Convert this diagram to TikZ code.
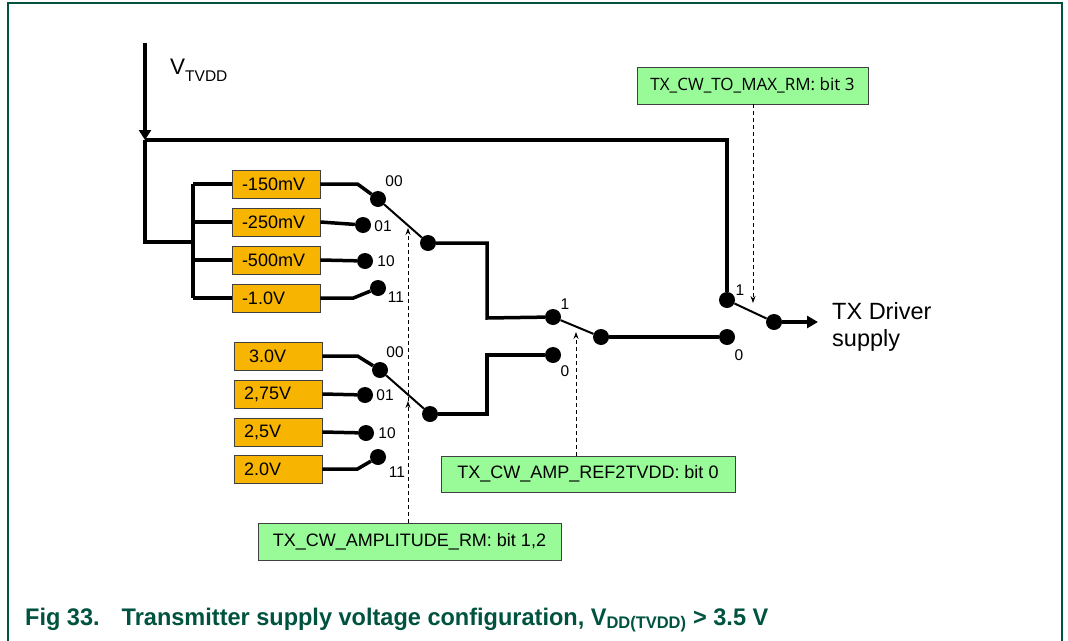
\documentclass[tikz,border=0pt]{standalone}
\usepackage{fontspec}
\setmainfont{Liberation Sans}
\newfontfamily\notefont{Open Sans}
\newfontfamily\capfont[FakeStretch=0.98]{Liberation Sans}
\usetikzlibrary{calc}
\usetikzlibrary{positioning}
\usetikzlibrary{arrows.meta}

\definecolor{levelorange}{RGB}{247,180,0}
\definecolor{regalgreen}{RGB}{152,251,152}
\definecolor{framegreen}{RGB}{0,83,63}

\tikzset{
    level/.style={draw=black!75, line width=0.9pt, fill=levelorange, minimum width=88pt, minimum height=28pt, inner sep=0pt, text width=68pt, align=left, font=\fontsize{18}{20}\selectfont},
    regbox/.style={draw=black!75, line width=0.9pt, fill=regalgreen, minimum height=37pt, inner sep=0pt, font=\fontsize{18}{20}\selectfont},
    contact/.style={circle, fill=black, inner sep=0pt, minimum size=16pt},
    wire/.style={line width=3.5pt},
    blade/.style={line width=2pt},
    sel/.style={font=\fontsize{15.5}{15.5}\selectfont, inner sep=0pt},
    ctrl/.style={line width=0.8pt, dash pattern=on 4pt off 3pt, -{Stealth[length=7pt,width=5pt]}}
}

\begin{document}
\begin{tikzpicture}[x=1pt, y=-1pt]

        \useasboundingbox (0,0) rectangle (1068,640);

        % frame
        \path[draw, framegreen, line width=1.5pt] (8,641) -- (8,3) -- (1062,3) -- (1062,641);

        \coordinate (vin) at (145,43);
        \coordinate (vtap) at (145,140);
        \coordinate (vbot) at (145,242);
        \coordinate (bus) at (193,242);
        \coordinate (jA) at (487,318);
        \coordinate (jB) at (487,355);
        \coordinate (drv) at (818,322);
        \coordinate (ctl3) at (753,303);
        \coordinate (ctl0) at (576,332);
        \coordinate (ctl12b) at (408,401);
        \coordinate (ctl12a) at (408,228);

        % level boxes
        \node[level] (n150) at (276,184) {-150mV};
        \node[level] (n250) at (276,222) {-250mV};
        \node[level] (n500) at (276,260) {-500mV};
        \node[level] (n1v) at (276,298) {-1.0V};
        \node[level] (p300) at (278,356) {\hspace{5pt}3.0V};
        \node[level] (p275) at (278,394) {2,75V};
        \node[level] (p250) at (278,432) {2,5V};
        \node[level] (p200) at (278,469) {2.0V};

        % register boxes
        \node[regbox, minimum width=231pt, font=\notefont\fontsize{17}{19}\selectfont] (rm3) at (752.5,85.5) {TX\_CW\_TO\_MAX\_RM: bit 3};
        \node[regbox, minimum width=294pt, minimum height=36pt] (rm0) at (588,474) {TX\_CW\_AMP\_REF2TVDD: bit 0};
        \node[regbox, minimum width=303pt] (rm12) at (409.5,541.5) {TX\_CW\_AMPLITUDE\_RM: bit 1,2};

        % contacts
        \node[contact] (a00) at (378,199) {};
        \node[contact] (a01) at (363,225) {};
        \node[contact] (a10) at (365,261) {};
        \node[contact] (a11) at (378,288) {};
        \node[contact] (apiv) at (428,243) {};
        \node[contact] (b00) at (380,370) {};
        \node[contact] (b01) at (365,395) {};
        \node[contact] (b10) at (366,433) {};
        \node[contact] (b11) at (378,457) {};
        \node[contact] (bpiv) at (430,414) {};
        \node[contact] (s1) at (553,317) {};
        \node[contact] (s0) at (553,355) {};
        \node[contact] (spiv) at (601,337) {};
        \node[contact] (t1) at (727,300) {};
        \node[contact] (t0) at (727,337) {};
        \node[contact] (tpiv) at (774,322) {};

        % supply input
        \path[draw, wire, -{Triangle[length=10pt,width=12pt]}] (vin) -- (vtap);
        \path[draw, wire] (vtap) -- (vbot) -- (bus);
        \path[draw, wire] (vtap) -| (t1);
        \path[draw, wire] (n150.west -| bus) -- (n1v.west -| bus);
        \foreach \lv in {n150,n250,n500,n1v}
            \path[draw, wire] (\lv.west -| bus) -- (\lv.west);

        % levels to contacts
        \path[draw, wire] (n150.east) -- ++(37,0) -- (a00);
        \path[draw, wire] (n250.east) -- (a01);
        \path[draw, wire] (n500.east) -- (a10);
        \path[draw, wire] (n1v.east) -- ++(33,0) -- (a11);
        \path[draw, wire] (p300.east) -- ++(35,0) -- (b00);
        \path[draw, wire] (p275.east) -- (b01);
        \path[draw, wire] (p250.east) -- (b10);
        \path[draw, wire] (p200.east) -- ++(35,0) -- (b11);

        % switch blades
        \path[draw, blade] (a00) -- (apiv);
        \path[draw, blade] (b00) -- (bpiv);
        \path[draw, blade] (s1) -- (spiv);
        \path[draw, blade] (t1) -- (tpiv);

        % outputs
        \path[draw, wire] (apiv) -| (jA) -- (s1);
        \path[draw, wire] (bpiv) -| (jB) -- (s0);
        \path[draw, wire] (spiv) -- (t0);
        \path[draw, wire, -{Triangle[length=11pt,width=12pt]}] (tpiv) -- (drv);

        % control arrows
        \path[draw, ctrl] (rm3.south -| ctl3) -- (ctl3);
        \path[draw, ctrl] (rm0.north -| ctl0) -- (ctl0);
        \path[draw, ctrl] (rm12.north -| ctl12b) -- (ctl12b);
        \path[draw, ctrl] (ctl12b) -- (ctl12a);

        % selector labels
        \node[sel] (l00a) at (394,181) {00};
        \node[sel] (l01a) at (383,226) {01};
        \node[sel] (l10a) at (386,261) {10};
        \node[sel] (l11a) at (396,297) {11};
        \node[sel] (l00b) at (395,352) {00};
        \node[sel] (l01b) at (385,395) {01};
        \node[sel] (l10b) at (387,433) {10};
        \node[sel] (l11b) at (397,472) {11};
        \node[sel] (ls1) at (565,304) {1};
        \node[sel] (ls0) at (565,371) {0};
        \node[sel] (lt1) at (740,290) {1};
        \node[sel] (lt0) at (739,355) {0};

        % texts
        \node[anchor=base west, inner sep=0pt, font=\fontsize{22.5}{22.5}\selectfont] (vtvdd) at (170,74) {V\raisebox{-7pt}{\fontsize{15.5}{15.5}\selectfont TVDD}};
        \node[anchor=north west, inner sep=0pt, align=left, font=\fontsize{23.5}{27}\selectfont] (txdrv) at (832,302) {TX Driver\\supply};
        \node[anchor=base west, inner sep=0pt, text=framegreen, font=\capfont\bfseries\fontsize{24}{24}\selectfont] (caption) at (25,625) {Fig 33.\hspace{22pt}Transmitter supply voltage configuration, V\textsubscript{DD(TVDD)} > 3.5 V};

    \end{tikzpicture}
\end{document}
